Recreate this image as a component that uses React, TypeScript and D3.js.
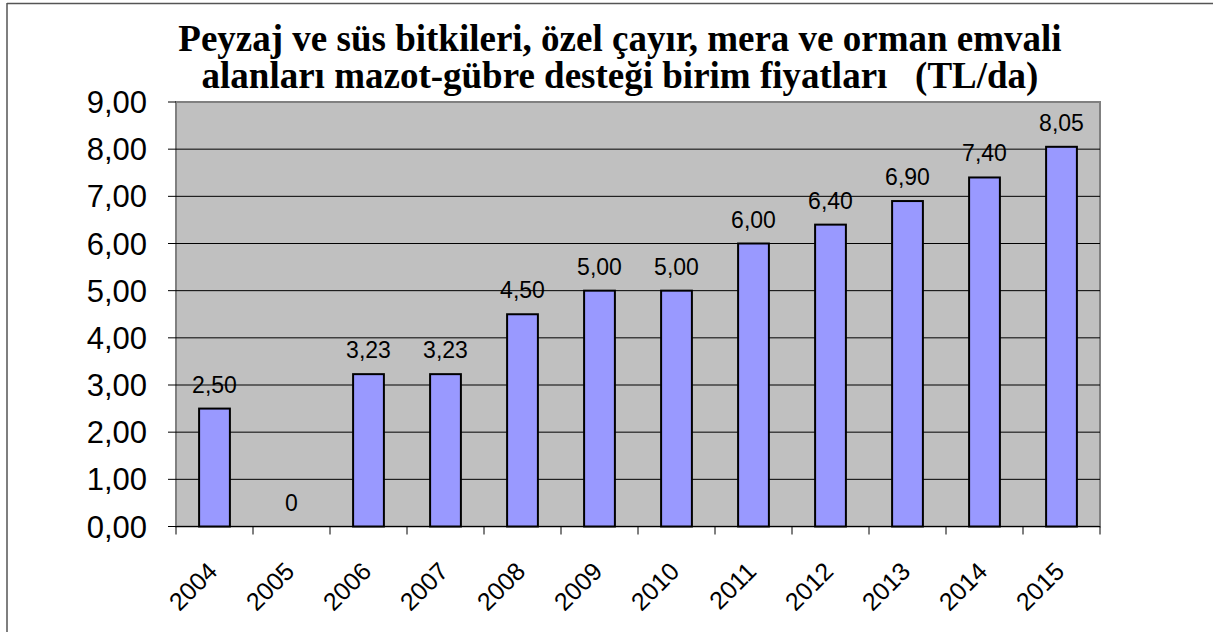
import React from "react";
import * as d3 from "d3";

const years = ["2004","2005","2006","2007","2008","2009","2010","2011","2012","2013","2014","2015"];
const values = [2.5, 0, 3.23, 3.23, 4.5, 5.0, 5.0, 6.0, 6.4, 6.9, 7.4, 8.05];
const yTicks = [0,1,2,3,4,5,6,7,8,9];
const titleLines = [
  "Peyzaj ve süs bitkileri, özel çayır, mera ve orman emvali",
  "alanları mazot-gübre desteği birim fiyatları   (TL/da)",
];

const W = 1213, H = 632;
const L = 176, R = 1100, T = 102, B = 526.5;

const fmtLabel = (v: number) => (v === 0 ? "0" : v.toFixed(2).replace(".", ","));
const fmtTick = (v: number) => v.toFixed(2).replace(".", ",");

export default function App() {
  const x = d3.scaleBand<string>().domain(years).range([L, R]).paddingInner(0).paddingOuter(0);
  const y = d3.scaleLinear().domain([0, 9]).range([B, T]);
  const bw = x.bandwidth() * 0.4;
  return (
    <svg width={W} height={H} style={{ position: "absolute", left: 0, top: 0, background: "#fff" }}>
      <line x1={7} y1={3.5} x2={W} y2={3.5} stroke="#555" strokeWidth={1.5} />
      <line x1={7} y1={3} x2={7} y2={H} stroke="#555" strokeWidth={1.5} />
      {titleLines.map((t, i) => (
        <text key={i} x={620} y={51 + i * 37} textAnchor="middle" fontFamily="Liberation Serif, Times New Roman, serif"
          fontWeight="bold" fontSize={37} style={{ whiteSpace: "pre" }} xmlSpace="preserve">{t}</text>
      ))}
      <rect x={L} y={T} width={R - L} height={B - T} fill="#C0C0C0" stroke="#808080" strokeWidth={2} />
      {yTicks.slice(1, -1).map((t) => (
        <line key={t} x1={L} x2={R} y1={y(t)} y2={y(t)} stroke="#000" strokeWidth={1} />
      ))}
      {yTicks.map((t) => (
        <g key={"yt" + t}>
          <line x1={L - 8} x2={L} y1={y(t)} y2={y(t)} stroke="#000" strokeWidth={1} />
          <text x={147} y={y(t)} dy="0.36em" textAnchor="end" fontFamily="Liberation Sans, Arial, sans-serif" fontSize={31}>{fmtTick(t)}</text>
        </g>
      ))}
      <line x1={L} x2={R} y1={B} y2={B} stroke="#000" strokeWidth={1} />
      {years.map((yr, i) => (
        <line key={"xt" + i} x1={x(yr)!} x2={x(yr)!} y1={B} y2={B + 8} stroke="#000" strokeWidth={1} />
      ))}
      <line x1={R} x2={R} y1={B} y2={B + 8} stroke="#000" strokeWidth={1} />
      {years.map((yr, i) => {
        const cx = x(yr)! + x.bandwidth() / 2;
        const v = values[i];
        return (
          <g key={"b" + yr}>
            {v > 0 && (
              <rect x={cx - bw / 2} y={y(v)} width={bw} height={B - y(v)} fill="#9999FF" stroke="#000" strokeWidth={2} />
            )}
            <text x={cx} y={y(v) - 16} textAnchor="middle" fontFamily="Liberation Sans, Arial, sans-serif" fontSize={23}>{fmtLabel(v)}</text>
            <text transform={`translate(${cx - 2},${B + 40}) rotate(-45)`} textAnchor="end" dy="0.36em"
              fontFamily="Liberation Sans, Arial, sans-serif" fontSize={25}>{yr}</text>
          </g>
        );
      })}
    </svg>
  );
}
